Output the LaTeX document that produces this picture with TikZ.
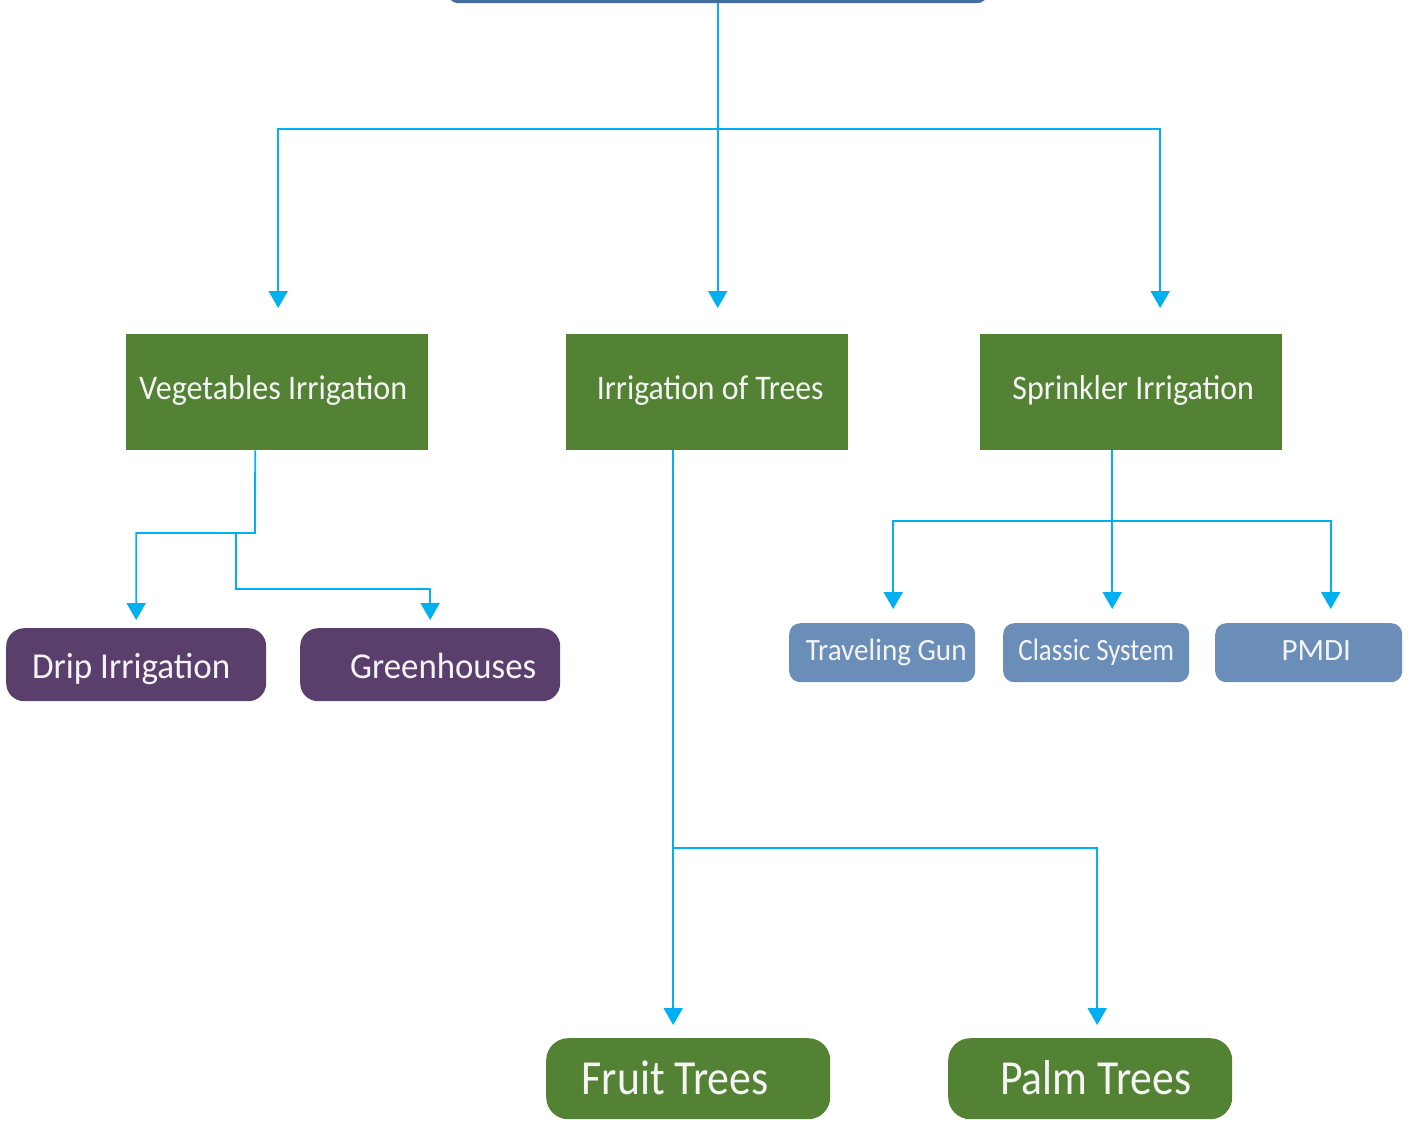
\documentclass[tikz,border=0pt]{standalone}
\usepackage{fontspec}
\setmainfont{Carlito}
\usetikzlibrary{arrows.meta,calc}
\definecolor{cgreen}{HTML}{548235}
\definecolor{cpurple}{HTML}{5A3F6C}
\definecolor{cblue}{HTML}{6A8EB8}
\definecolor{croot}{HTML}{416E9B}
\definecolor{ccyan}{HTML}{00B0F0}
\definecolor{ctext}{HTML}{F4F4F4}
\newcommand\narrow[2]{\scalebox{#1}[1]{#2}}
\tikzset{
  box/.style={inner sep=0pt, text=ctext, anchor=north west},
  bl/.style={text height=#1, text depth=0pt},
  greenbox/.style={box, fill=cgreen, bl=14pt, font=\fontsize{34.5}{38}\selectfont},
  purplebox/.style={box, fill=cpurple, rounded corners=18pt, bl=27pt, font=\fontsize{36.5}{40}\selectfont},
  bluebox/.style={box, fill=cblue, rounded corners=11pt, bl=15pt, font=\fontsize{31}{35}\selectfont},
  bigbox/.style={box, fill=cgreen, rounded corners=22pt, bl=31pt, font=\fontsize{49}{53}\selectfont},
  wire/.style={draw=ccyan, line width=1.8pt},
  conn/.style={wire, -{Triangle[width=19pt,length=17pt]}},
}
\begin{document}
\begin{tikzpicture}[x=1pt,y=-1pt]
\useasboundingbox (0,0) rectangle (1417,1122);
% root (mostly outside the picture)
\node[box, fill=croot, rounded corners=14pt, minimum width=545pt, minimum height=60pt] (root) at (445,-57) {};
% level 1
\node[greenbox, minimum width=302pt, minimum height=116pt] (veg) at (126,334) {\hspace*{-8pt}\narrow{0.93}{Vegetables Irrigation}};
\node[greenbox, minimum width=282pt, minimum height=116pt] (trees) at (566,334) {\hspace*{6pt}\narrow{0.92}{Irrigation of Trees}};
\node[greenbox, minimum width=302pt, minimum height=116pt] (spr) at (980,334) {\hspace*{4pt}\narrow{0.927}{Sprinkler Irrigation}};
% level 2
\node[purplebox, minimum width=260pt, minimum height=73pt] (drip) at (6,628) {\hspace*{-10pt}\narrow{0.96}{Drip Irrigation}};
\node[purplebox, minimum width=260pt, minimum height=73pt] (green) at (300,628) {\hspace*{26pt}\narrow{0.954}{Greenhouses}};
\node[bluebox, minimum width=186pt, minimum height=59pt] (gun) at (789,623) {\hspace*{8pt}\narrow{0.94}{Traveling Gun}};
\node[bluebox, minimum width=186pt, minimum height=59pt] (classic) at (1003,623) {\narrow{0.866}{Classic System}};
\node[bluebox, minimum width=187pt, minimum height=59pt] (pmdi) at (1215,623) {\hspace*{15pt}PMDI};
\node[bigbox, minimum width=284pt, minimum height=81pt] (fruit) at (546,1038) {\hspace*{-26pt}\narrow{0.894}{Fruit Trees}};
\node[bigbox, minimum width=284pt, minimum height=81pt] (palm) at (948,1038) {\hspace*{11pt}\narrow{0.89}{Palm Trees}};
% connectors from root
\coordinate (j1) at (718,129);
\draw[conn] (root.south) -- ($(root.south |- trees.north)+(0,-26)$);
\draw[conn] (j1) -| ($(veg.north)+(1,-26)$);
\draw[conn] (j1) -| ($(spr.north)+(29,-26)$);
% vegetables
\coordinate (v0) at ($(veg.south)+(-22,0)$);
\coordinate (v1) at (255,533);
\coordinate (v2) at (236,533);
\draw[conn] (v0) -- (v1) -| ($(drip.north)+(0,-8)$);
\draw[conn] (v2) |- (430,589) -- ($(green.north)+(0,-8)$);
% sprinkler
\coordinate (s0) at ($(spr.south)+(-19,0)$);
\coordinate (s1) at (1112,521);
\draw[conn] (s0) -- ($(classic.north)+(16,-14)$);
\draw[conn] (s1) -| ($(gun.north)+(11,-14)$);
\draw[conn] (s1) -| ($(pmdi.north)+(22,-14)$);
% trees
\coordinate (t0) at ($(trees.south)+(-34,0)$);
\coordinate (t1) at (673,848);
\draw[conn] (t0) -- ($(fruit.north)+(-15,-13)$);
\draw[conn] (t1) -| ($(palm.north)+(7,-13)$);
\end{tikzpicture}
\end{document}
